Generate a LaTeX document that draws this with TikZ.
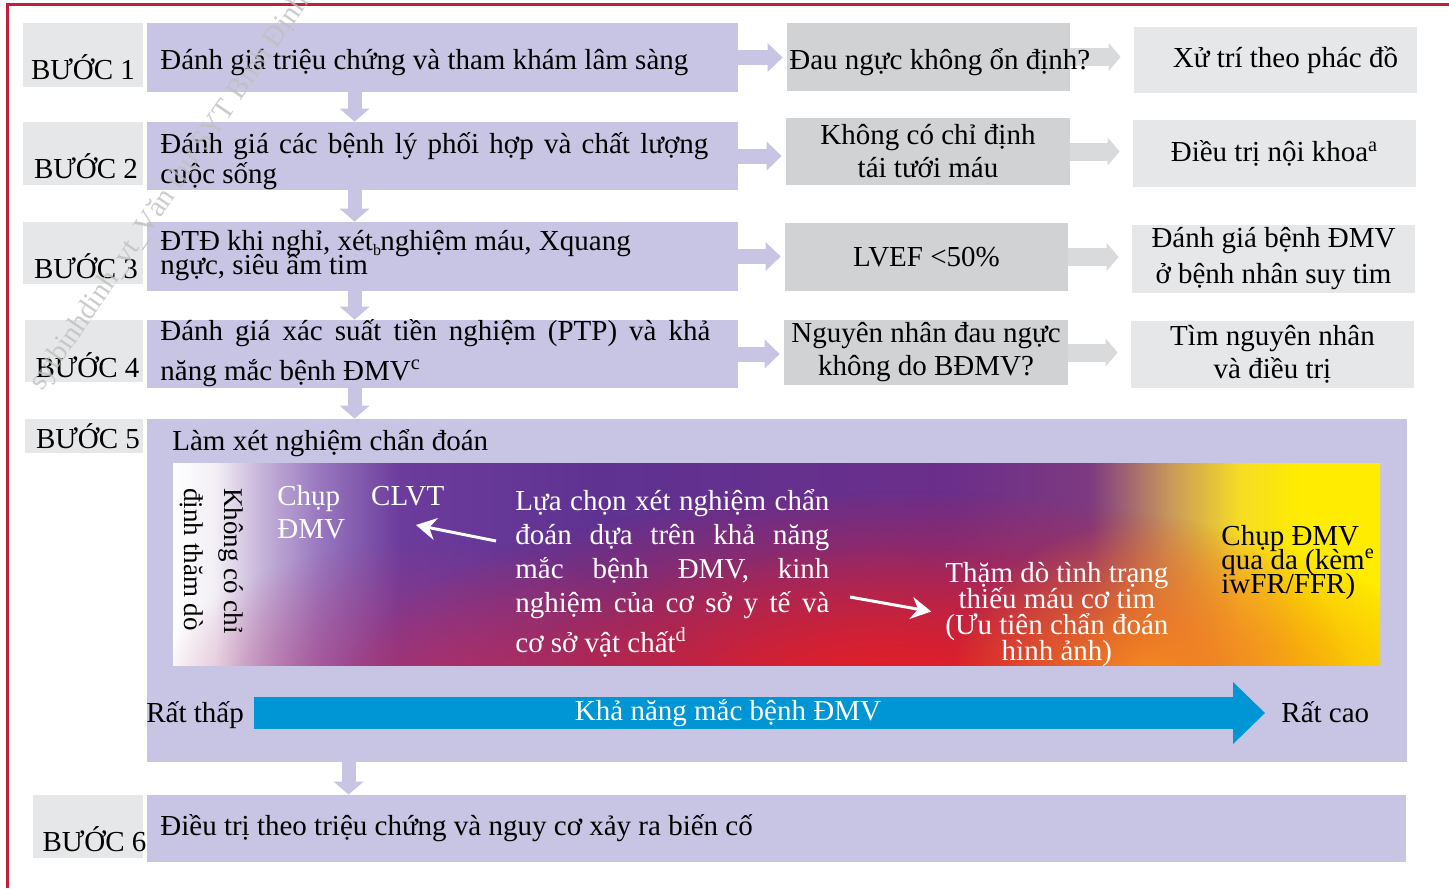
\documentclass[tikz,border=0pt]{standalone}
\usepackage{fontspec}
\setmainfont{Liberation Serif}
\usetikzlibrary{positioning, arrows.meta, fadings}

\definecolor{lav}{RGB}{199,197,227}
\definecolor{labgray}{RGB}{230,231,232}
\definecolor{midgray}{RGB}{209,210,212}
\definecolor{arrgray}{RGB}{217,218,220}
\definecolor{bordred}{RGB}{196,30,58}
\definecolor{axisblue}{RGB}{0,150,214}
\definecolor{gp1}{RGB}{242,238,245}
\definecolor{gp2}{RGB}{199,181,218}
\definecolor{gp3}{RGB}{152,119,191}
\definecolor{gp4}{RGB}{108,60,156}
\definecolor{gp5}{RGB}{95,50,146}
\definecolor{gp6}{RGB}{107,46,138}
\definecolor{gp7}{RGB}{126,58,128}
\definecolor{gp8}{RGB}{200,151,90}
\definecolor{gp9}{RGB}{245,220,37}
\definecolor{gp10}{RGB}{255,236,0}
\definecolor{glowred}{RGB}{230,30,36}
\definecolor{gloworange}{RGB}{246,140,30}
\definecolor{glowpink}{RGB}{180,50,110}

\pgfdeclarehorizontalshading{dmvgrad}{100bp}{color(0bp)=(white); color(25bp)=(white);
  color(26.75bp)=(gp1); color(28.6bp)=(gp2); color(31.1bp)=(gp3); color(34.4bp)=(gp4);
  color(42.7bp)=(gp5); color(57.15bp)=(gp6); color(63bp)=(gp7); color(66.25bp)=(gp8);
  color(69.15bp)=(gp9); color(71.7bp)=(gp10); color(100bp)=(gp10)}
\tikzfading[name=glow, inner color=transparent!0, outer color=transparent!100]

% font with fixed line distance
\newcommand\linesat[1]{\fontsize{14.5}{#1}\selectfont\lineskiplimit-20pt\relax}
% block of lines, baseline at the first line
\newcommand\lines[2]{\parbox[t]{#1}{\lineskiplimit-20pt\relax\raggedright #2}}

\tikzset{
  stepbox/.style={fill=labgray, inner sep=0pt},
  flowbox/.style={fill=lav, inner sep=0pt},
  midbox/.style={fill=midgray, inner sep=0pt, align=center},
  endbox/.style={fill=labgray, inner sep=0pt, align=center},
  txt/.style={inner sep=0pt, anchor=base west},
  downarr/.style={draw=lav, line width=7pt, -{Triangle[length=6.5pt,width=15pt,line width=0pt]}},
  rightarr/.style={draw=lav, line width=7.5pt, -{Triangle[length=7.5pt,width=14.5pt,line width=0pt]}, shorten >=2pt},
  grayarr/.style={draw=arrgray, line width=9pt, -{Triangle[length=6pt,width=14pt,line width=0pt]}, shorten >=6.5pt},
  whitearr/.style={draw=white, line width=1.5pt, -{Stealth[length=10pt,width=11pt]}},
  bigarr/.style={draw=axisblue, line width=16pt, -{Triangle[length=16pt,width=31pt,line width=0pt]}}
}

\begin{document}
\begin{tikzpicture}[x=0.5pt, y=-0.5pt, font=\linesat{17}]
\useasboundingbox (0,0) rectangle (1449,888);

% frame
\draw[bordred, line width=1.5pt] (7,888) -- (7,5) -- (1449,5);

% step labels
\node[stepbox, minimum width=60pt, minimum height=32pt] (lb1) at (83,55) {};
\node[stepbox, minimum width=60pt, minimum height=31.5pt] (lb2) at (83,153.5) {};
\node[stepbox, minimum width=60pt, minimum height=31pt] (lb3) at (83,253) {};
\node[stepbox, minimum width=59pt, minimum height=31pt] (lb4) at (84,351) {};
\node[stepbox, minimum width=59pt, minimum height=17pt] (lb5) at (84,436) {};
\node[stepbox, minimum width=55pt, minimum height=31.5pt] (lb6) at (88,826.5) {};
\node[txt, anchor=base] (lt1) at (83,80) {BƯỚC 1};
\node[txt, anchor=base] (lt2) at (86,178) {BƯỚC 2};
\node[txt, anchor=base] (lt3) at (86,278) {BƯỚC 3};
\node[txt, anchor=base] (lt4) at (87.5,377) {BƯỚC 4};
\node[txt, anchor=base] (lt5) at (88,448) {BƯỚC 5};
\node[txt, anchor=base] (lt6) at (94.5,851) {BƯỚC 6};

% main steps
\node[flowbox, minimum width=295.5pt, minimum height=34.5pt] (s1) at (442.5,57.5) {};
\node[flowbox, minimum width=295.5pt, minimum height=34pt] (s2) at (442.5,156) {};
\node[flowbox, minimum width=295.5pt, minimum height=34.5pt] (s3) at (442.5,256.5) {};
\node[flowbox, minimum width=295.5pt, minimum height=34pt] (s4) at (442.5,354) {};
\node[flowbox, minimum width=630pt, minimum height=171.5pt] (s5) at (777,590.5) {};
\node[flowbox, minimum width=629.5pt, minimum height=33.5pt] (s6) at (776.5,828.5) {};

% middle and right columns
\node[midbox, minimum width=141.5pt, minimum height=34pt] (m1) at (928.5,57) {};
\node[midbox, minimum width=142pt, minimum height=33.5pt, font=\linesat{16.5}] (m2) at (928,151.5) {Không có chỉ định\\tái tưới máu};
\node[midbox, minimum width=141.5pt, minimum height=34pt] (m3) at (926.5,257) {LVEF <50\%};
\node[midbox, minimum width=142pt, minimum height=32.5pt, font=\linesat{16.5}] (m4) at (926,352.5) {Nguyên nhân đau ngực\\không do BĐMV?};

\node[endbox, minimum width=141.5pt, minimum height=33pt] (r1) at (1275.5,60) {\hspace*{10pt}Xử trí theo phác đồ};
\node[endbox, minimum width=141.5pt, minimum height=33.5pt] (r2) at (1274.5,153.5) {Điều trị nội khoa\textsuperscript{a}};
\node[endbox, minimum width=141.5pt, minimum height=34pt, font=\linesat{18}] (r3) at (1273.5,259) {Đánh giá bệnh ĐMV\\ở bệnh nhân suy tim};
\node[endbox, minimum width=141.5pt, minimum height=33.5pt, font=\linesat{16.5}] (r4) at (1272.5,354.5) {Tìm nguyên nhân\\và điều trị};

% arrows
\draw[downarr] ([xshift=104pt]s1.south west) -- ([xshift=104pt]s2.north west);
\draw[downarr] ([xshift=104pt]s2.south west) -- ([xshift=104pt]s3.north west);
\draw[downarr] ([xshift=104pt]s3.south west) -- ([xshift=104pt]s4.north west);
\draw[downarr] ([xshift=104pt]s4.south west) -- ([xshift=104pt]s5.north west);
\draw[downarr] ([xshift=101pt]s5.south west) -- ([xshift=101pt]s6.north west);

\draw[rightarr] (s1.east) -- (s1.east -| m1.west);
\draw[rightarr] (s2.east) -- (s2.east -| m2.west);
\draw[rightarr] (s3.east) -- (s3.east -| m3.west);
\draw[rightarr] (s4.east) -- (s4.east -| m4.west);

\draw[grayarr] (m1.east) -- (m1.east -| r1.west);
\draw[grayarr] (m2.east) -- (m2.east -| r2.west);
\draw[grayarr] (m3.east) -- (m3.east -| r3.west);
\draw[grayarr] (m4.east) -- (m4.east -| r4.west);

% step texts
\node[txt] (t1) at (160,70) {Đánh giá triệu chứng và tham khám lâm sàng};
\node[txt, font=\linesat{15}] (t2) at (160,153)
  {\lines{290pt}{\makebox[274pt][s]{Đánh giá các bệnh lý phối hợp và chất lượng}\\cuộc sống}};
\node[txt, font=\linesat{12}] (t3) at (160,250)
  {\lines{290pt}{ĐTĐ khi nghỉ, xét\rlap{\raisebox{-2.5pt}{\fontsize{8}{8}\selectfont b}} nghiệm máu, Xquang\\ngực, siêu âm tim}};
\node[txt, font=\linesat{20}] (t4) at (160,340)
  {\lines{290pt}{\makebox[275pt][s]{Đánh giá xác suất tiền nghiệm (PTP) và khả}\\năng mắc bệnh ĐMV\textsuperscript{c}}};
\node[txt] (t5) at (172,450) {Làm xét nghiệm chẩn đoán};
\node[txt] (t6) at (160,835) {Điều trị theo triệu chứng và nguy cơ xảy ra biến cố};
\node[txt] (m1t) at (789,70) {Đau ngực không ổn định?};

% test choice band
\shade[shading=dmvgrad] (173,463) rectangle (1380,665);
\begin{scope}
  \clip (173,463) rectangle (1380,665);
  \fill[glowpink, path fading=glow, opacity=0.8] (430,700) ellipse [x radius=140pt, y radius=80pt];
  \fill[glowred, path fading=glow] (900,690) ellipse [x radius=280pt, y radius=100pt];
  \fill[glowred, path fading=glow, opacity=0.6] (880,685) ellipse [x radius=180pt, y radius=70pt];
  \fill[gloworange, path fading=glow] (1150,680) ellipse [x radius=100pt, y radius=80pt];
\end{scope}

\node[inner sep=0pt, rotate=-90, align=left, font=\fontsize{13.5}{20}\selectfont] (nochi) at (212,561) {Không có chỉ\\định thăm dò};
\node[txt, white, font=\linesat{16.5}] (chup) at (277,505) {\lines{100pt}{Chụp\hspace{15.5pt}CLVT\\ĐMV}};
\node[txt, white] (lua) at (515,510)
  {\lines{160pt}{\makebox[157pt][s]{Lựa chọn xét nghiệm chẩn}\\\makebox[157pt][s]{đoán dựa trên khả năng}\\
   \makebox[157pt][s]{mắc bệnh ĐMV, kinh}\\\makebox[157pt][s]{nghiệm của cơ sở y tế và}\\[3pt]
   cơ sở vật chất\textsuperscript{d}}};
\node[txt, white, font=\linesat{13}] (thamdo) at (945,582)
  {\parbox[t]{111.5pt}{\lineskiplimit-20pt\relax\centering Thặm dò tình trạng\\thiếu máu cơ tim\\(Ưu tiên chẩn đoán\\hình ảnh)}};
\node[txt, font=\linesat{12}] (chupdmv) at (1221,545)
  {\lines{80pt}{Chụp ĐMV\\qua da (kèm\textsuperscript{e}\\iwFR/FFR)}};

\coordinate (a1s) at (496,541);
\coordinate (a1e) at (416,525);
\coordinate (a2s) at (850,597);
\draw[whitearr] (a1s) -- (a1e);
\draw[whitearr, shorten >=7pt] (a2s) -- (thamdo.west);

% likelihood axis
\node[txt] (low) at (146,722) {Rất thấp};
\node[txt] (high) at (1281,722) {Rất cao};
\coordinate (axis) at (0,713);
\draw[bigarr, shorten <=5pt, shorten >=8pt] (low.east |- axis) -- (high.west |- axis);
\node[txt, white, anchor=base] (axlabel) at (728,720) {Khả năng mắc bệnh ĐMV};

% watermark
\begin{scope}
  \clip (0,0) rectangle (1449,888);
  \node[txt, gray!50, opacity=0.8, rotate=55.6, font=\linesat{18}] (wmark) at (42,392)
    {sytbinhdinh\_vt\_Văn thư SYT Bình Định};
\end{scope}
\end{tikzpicture}
\end{document}
